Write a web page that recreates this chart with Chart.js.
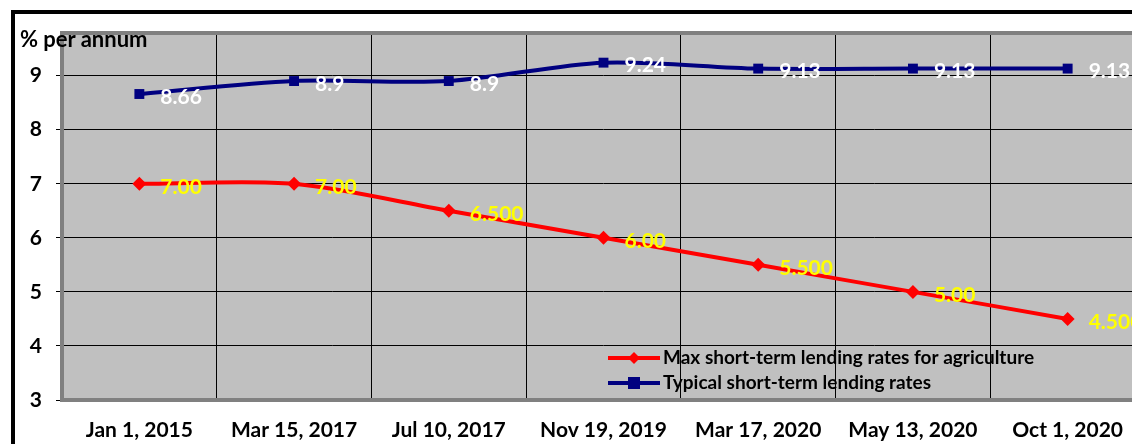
<!DOCTYPE html>
<html>
<head>
<meta charset="utf-8">
<script src="https://cdn.jsdelivr.net/npm/chart.js@4.4.0/dist/chart.umd.min.js"></script>
<style>
  html, body { margin: 0; padding: 0; background: #fff; overflow: hidden; width: 1132px; height: 444px; }
  #frame { position: absolute; left: 11px; top: 10px; width: 1300px; height: 600px;
           border-top: 4px solid #000; border-left: 4px solid #000; }
  #wrap { position: absolute; left: 0; top: 0; width: 1160px; height: 444px; }
  #ytitle { position: absolute; left: 20px; top: 25px; font: bold 22px Lato, sans-serif; color: #000; z-index: 2; }
</style>
</head>
<body>
<div id="frame"></div>
<div id="wrap"><canvas id="c" width="1160" height="444"></canvas></div>
<div id="ytitle">% per annum</div>
<script>
// --- DATOS ---
const fechas = ['Jan 1, 2015', 'Mar 15, 2017', 'Jul 10, 2017', 'Nov 19, 2019', 'Mar 17, 2020', 'May 13, 2020', 'Oct 1, 2020'];
const agro = [7.00, 7.00, 6.5, 6.0, 5.5, 5.0, 4.5];
const agroLabels = ['7.00', '7.00', '6.500', '6.00', '5.500', '5.00', '4.500'];
const tipico = [8.66, 8.9, 8.9, 9.24, 9.13, 9.13, 9.13];
const tipicoLabels = ['8.66', '8.9', '8.9', '9.24', '9.13', '9.13', '9.13'];
const yTicks = [3, 4, 5, 6, 7, 8, 9];

const FONT = 'Lato, sans-serif';

// fondo gris del area de trazado
const plotBg = {
    id: 'plotBg',
    beforeDraw(chart) {
        const { ctx, chartArea: a } = chart;
        ctx.save();
        ctx.fillStyle = '#c0c0c0';
        ctx.fillRect(a.left, a.top, a.right - a.left, a.bottom - a.top);
        ctx.restore();
    },
    afterDraw(chart) {
        const { ctx, chartArea: a } = chart;
        ctx.save();
        ctx.strokeStyle = '#808080';
        ctx.lineWidth = 4;
        ctx.beginPath();
        ctx.moveTo(a.right + 20, a.top - 1);
        ctx.lineTo(a.left, a.top - 1);
        ctx.lineTo(a.left, a.bottom);
        ctx.lineTo(a.right + 20, a.bottom);
        ctx.stroke();
        ctx.restore();
    }
};

// etiquetas de valores
const valueLabels = {
    id: 'valueLabels',
    afterDatasetsDraw(chart) {
        const ctx = chart.ctx;
        const sets = [{ txt: agroLabels, color: '#ffff00' }, { txt: tipicoLabels, color: '#ffffff' }];
        ctx.save();
        ctx.font = 'bold 21px ' + FONT;
        ctx.textAlign = 'left';
        ctx.textBaseline = 'middle';
        sets.forEach((s, i) => {
            chart.getDatasetMeta(i).data.forEach((pt, j) => {
                ctx.fillStyle = s.color;
                ctx.fillText(s.txt[j], pt.x + 21, pt.y + 3);
            });
        });
        ctx.restore();
    }
};

// leyenda dentro del grafico
const innerLegend = {
    id: 'innerLegend',
    afterDraw(chart) {
        const ctx = chart.ctx;
        const x0 = 608, x1 = 660, rows = [358, 383];
        ctx.save();
        chart.data.datasets.forEach((ds, i) => {
            const y = rows[i];
            ctx.strokeStyle = ds.borderColor;
            ctx.lineWidth = 4;
            ctx.beginPath();
            ctx.moveTo(x0, y);
            ctx.lineTo(x1, y);
            ctx.stroke();
            ctx.fillStyle = ds.borderColor;
            const cx = (x0 + x1) / 2;
            if (ds.pointStyle === 'rectRot') {
                ctx.beginPath();
                ctx.moveTo(cx, y - 6); ctx.lineTo(cx + 6, y); ctx.lineTo(cx, y + 6); ctx.lineTo(cx - 6, y);
                ctx.closePath(); ctx.fill();
            } else {
                ctx.fillRect(cx - 6, y - 6, 12, 12);
            }
            ctx.fillStyle = '#000';
            ctx.font = 'bold 19px ' + FONT;
            ctx.textBaseline = 'middle';
            ctx.fillText(ds.label, x1 + 3, y);
        });
        ctx.restore();
    }
};

new Chart(document.getElementById('c'), {
    type: 'line',
    data: {
        labels: fechas,
        datasets: [{
            label: 'Max short-term lending rates for agriculture',
            data: agro,
            borderColor: '#ff0000',
            backgroundColor: '#ff0000',
            borderWidth: 4,
            pointStyle: 'rectRot',
            pointRadius: 7,
            pointBorderWidth: 0,
            tension: 0.3,
            fill: false
        }, {
            label: 'Typical short-term lending rates',
            data: tipico,
            borderColor: '#000080',
            backgroundColor: '#000080',
            borderWidth: 4,
            pointStyle: 'rect',
            pointRadius: 7,
            pointBorderWidth: 0,
            tension: 0.3,
            fill: false
        }]
    },
    options: {
        responsive: false,
        animation: false,
        layout: { padding: { top: 34, right: 15, left: 0, bottom: 0 } },
        plugins: { legend: { display: false }, tooltip: { enabled: false } },
        scales: {
            x: {
                offset: true,
                grid: { offset: true, color: '#000', lineWidth: 1, drawTicks: false },
                border: { display: false },
                ticks: { color: '#000', font: { family: FONT, size: 21, weight: 'bold' }, padding: 18, maxRotation: 0, autoSkip: false },
                afterFit(s) { s.height = 44; }
            },
            y: {
                min: 3,
                max: 9.77,
                afterBuildTicks(s) { s.ticks = yTicks.map(v => ({ value: v })); },
                grid: { color: '#000', lineWidth: 1, tickLength: 6, tickColor: '#000' },
                border: { display: false },
                ticks: { color: '#000', font: { family: FONT, size: 21, weight: 'bold' }, padding: 14 },
                afterFit(s) { s.width = 62; }
            }
        }
    },
    plugins: [plotBg, valueLabels, innerLegend]
});
</script>
</body>
</html>
